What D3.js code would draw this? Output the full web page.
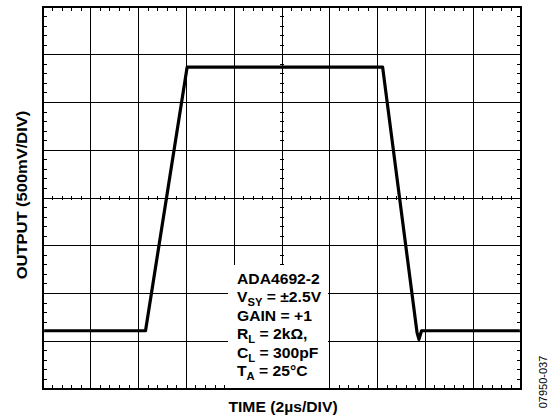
<!DOCTYPE html>
<html lang="en">
<head>
    <meta charset="UTF-8">
    <title>ADA4692-2 large signal response</title>
    <script src="https://d3js.org/d3.v7.min.js"></script>
    <style>
        body { margin: 0; background: #fff; }
        text { font-family: "Liberation Sans", Arial, sans-serif; font-weight: bold; fill: #000; }
    </style>
</head>
<body>
    <div id="chart"></div>

    <script>
        // trace: time in us, output in V
        var timeUs = [0.05, 4.29, 6.03, 14.21, 15.65, 15.73, 15.84, 19.95];
        var outputV = [-1.39, -1.39, 1.37, 1.37, -1.41, -1.48, -1.39, -1.39];

        var xDivs = d3.range(0, 21, 2);      // 2us/div
        var yDivs = d3.range(-2, 2.01, 0.5); // 500mV/div

        var legendLines = [
            [["ADA4692-2", ""]],
            [["V", ""], ["SY", "sub"], [" = \u00b12.5V", ""]],
            [["GAIN = +1", ""]],
            [["R", ""], ["L", "sub"], [" = 2k\u03a9,", ""]],
            [["C", ""], ["L", "sub"], [" = 300pF", ""]],
            [["T", ""], ["A", "sub"], [" = 25\u00b0C", ""]]
        ];

        var width = 553, height = 419;
        // note: "top" is taken by window.top, so plot edges get their own names
        var pLeft = 43, pRight = 521, pTop = 7, pBottom = 389;

        var svg = d3.select("#chart").append("svg")
            .attr("width", width)
            .attr("height", height);

        var x = d3.scaleLinear().domain([0, 20]).range([pLeft, pRight]);
        var y = d3.scaleLinear().domain([-2, 2]).range([pBottom, pTop]);

        var grid = svg.append("g")
            .attr("stroke", "#000")
            .attr("stroke-width", 1)
            .attr("shape-rendering", "crispEdges");

        // major grid
        grid.selectAll("line.vx")
            .data(xDivs.slice(1, -1))
            .enter().append("line")
            .attr("x1", function(d) { return x(d); })
            .attr("x2", function(d) { return x(d); })
            .attr("y1", pTop).attr("y2", pBottom);

        grid.selectAll("line.hy")
            .data(yDivs.slice(1, -1))
            .enter().append("line")
            .attr("y1", function(d) { return y(d); })
            .attr("y2", function(d) { return y(d); })
            .attr("x1", pLeft).attr("x2", pRight);

        // minor ticks, 5 per division
        var xMinor = d3.range(0, 20.001, 0.4).filter(function(d) { return Math.abs(d / 2 - Math.round(d / 2)) > 0.01; });
        var yMinor = d3.range(-2, 2.001, 0.1).filter(function(d) { return Math.abs(d / 0.5 - Math.round(d / 0.5)) > 0.01; });

        xMinor.forEach(function(d) {
            grid.append("line").attr("x1", x(d)).attr("x2", x(d)).attr("y1", pTop).attr("y2", pTop + 4);
            grid.append("line").attr("x1", x(d)).attr("x2", x(d)).attr("y1", pBottom).attr("y2", pBottom - 4);
            grid.append("line").attr("x1", x(d)).attr("x2", x(d)).attr("y1", y(0) - 2).attr("y2", y(0) + 2);
        });
        yMinor.forEach(function(d) {
            grid.append("line").attr("y1", y(d)).attr("y2", y(d)).attr("x1", pLeft).attr("x2", pLeft + 4);
            grid.append("line").attr("y1", y(d)).attr("y2", y(d)).attr("x1", pRight).attr("x2", pRight - 4);
            grid.append("line").attr("y1", y(d)).attr("y2", y(d)).attr("x1", x(10) - 2).attr("x2", x(10) + 2);
        });

        // legend box blanks the grid behind it
        svg.append("rect")
            .attr("x", 228).attr("y", 265)
            .attr("width", 100).attr("height", pBottom - 266)
            .attr("fill", "#fff");

        // trace
        var pts = timeUs.map(function(t, i) { return [t, outputV[i]]; });
        svg.append("path")
            .datum(pts)
            .attr("fill", "none")
            .attr("stroke", "#000")
            .attr("stroke-width", 3.2)
            .attr("stroke-linejoin", "round")
            .attr("d", d3.line()
                .x(function(d) { return x(d[0]); })
                .y(function(d) { return y(d[1]); }));

        // frame
        svg.append("rect")
            .attr("x", pLeft).attr("y", pTop)
            .attr("width", pRight - pLeft).attr("height", pBottom - pTop)
            .attr("fill", "none")
            .attr("stroke", "#000")
            .attr("stroke-width", 2);

        // legend
        var leg = svg.append("g")
            .attr("transform", "translate(237,284) scale(1.12,1)");
        legendLines.forEach(function(line, i) {
            var t = leg.append("text")
                .attr("x", 0)
                .attr("y", i * 18.5)
                .attr("font-size", 14);
            line.forEach(function(part) {
                var s = t.append("tspan").text(part[0]);
                if (part[1] === "sub") {
                    s.attr("font-size", 10).attr("dy", 4);
                } else if (t.selectAll("tspan").size() > 1) {
                    s.attr("dy", -4);
                }
            });
        });

        // axis titles
        svg.append("text")
            .attr("transform", "translate(283,412) scale(1.12,1)")
            .attr("text-anchor", "middle")
            .attr("font-size", 14)
            .text("TIME (2\u00b5s/DIV)");

        svg.append("text")
            .attr("transform", "translate(26.5,195) rotate(-90) scale(1.18,1)")
            .attr("text-anchor", "middle")
            .attr("font-size", 14)
            .text("OUTPUT (500mV/DIV)");

        svg.append("text")
            .attr("transform", "translate(547,382) rotate(-90)")
            .attr("text-anchor", "middle")
            .attr("font-size", 11)
            .style("font-weight", "normal")
            .text("07950-037");
    </script>
</body>
</html>
